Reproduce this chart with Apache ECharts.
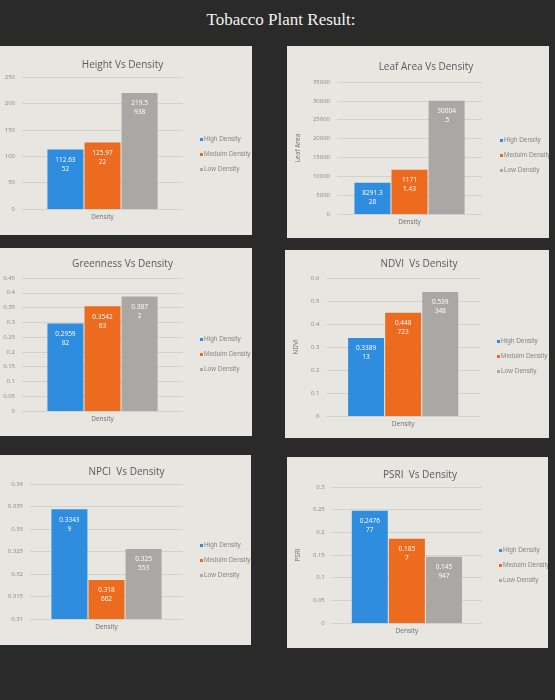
<!DOCTYPE html>
<html>
<head>
<meta charset="utf-8">
<script src="https://cdn.jsdelivr.net/npm/echarts@6/dist/echarts.min.js"></script>
<style>
  html, body { margin: 0; padding: 0; background: #2a2a2a; }
  #page { position: relative; width: 555px; height: 700px; overflow: hidden; background: #2a2a2a; }
  #heading { position: absolute; left: 0; width: 562px; top: 10px; text-align: center;
    font-family: "Liberation Serif", serif; font-size: 17px; color: #f2f2f2; }
  .panel { position: absolute; background: #e8e6e1; }
</style>
</head>
<body>
<div id="page">
  <div id="heading">Tobacco Plant Result:</div>
</div>
<script>
// series names, as written in the legends
const seriesNames = ['High Density', 'Meduim Density', 'Low Density'];
const category = ['Density'];

// values per chart: [high, medium, low]
const heightVals = [112.6352, 125.9722, 219.5938];
const leafAreaVals = [8291.328, 11711.43, 30004.5];
const greennessVals = [0.295982, 0.354263, 0.3872];
const ndviVals = [0.338913, 0.448723, 0.539348];
const npciVals = [0.33439, 0.318662, 0.325553];
const psriVals = [0.247677, 0.1857, 0.145947];

// where Excel wrapped each value label
const heightBreaks = [6, 6, 5];
const leafAreaBreaks = [6, 4, 5];
const greennessBreaks = [6, 6, 5];
const ndviBreaks = [6, 5, 5];
const npciBreaks = [6, 5, 5];
const psriBreaks = [6, 5, 5];

// y axis ranges: [min, max, interval]
const heightAxis = [0, 250, 50];
const leafAreaAxis = [0, 35000, 5000];
const greennessAxis = [0, 0.45, 0.05];
const ndviAxis = [0, 0.6, 0.1];
const npciAxis = [0.31, 0.34, 0.005];
const psriAxis = [0, 0.3, 0.05];

const colors = ['#2f8de0', '#ec6b1f', '#a9a8a4'];
const font = '"Open Sans", "Noto Sans", sans-serif';
const narrow = '"Liberation Sans Narrow", "Liberation Sans", sans-serif';

const charts = [
  { title: 'Height Vs Density', vals: heightVals, breaks: heightBreaks, axis: heightAxis, yName: '',
    box: [0, 46, 252, 189], grid: [22, 31, 69, 26], titleTop: 9, legend: [195, 85], nameGap: 0 },
  { title: 'Leaf Area Vs Density', vals: leafAreaVals, breaks: leafAreaBreaks, axis: leafAreaAxis, yName: 'Leaf Area',
    box: [287, 46, 262, 192], grid: [43, 36, 67, 24], titleTop: 11, legend: [208, 86], nameGap: 31 },
  { title: 'Greenness Vs Density', vals: greennessVals, breaks: greennessBreaks, axis: greennessAxis, yName: '',
    box: [0, 248, 252, 188], grid: [22, 30, 69, 25], titleTop: 6, legend: [195, 83], nameGap: 0 },
  { title: 'NDVI  Vs Density', vals: ndviVals, breaks: ndviBreaks, axis: ndviAxis, yName: 'NDVI',
    box: [285, 250, 264, 188], grid: [33, 28, 69, 22], titleTop: 4, legend: [207, 83], nameGap: 25 },
  { title: 'NPCI  Vs Density', vals: npciVals, breaks: npciBreaks, axis: npciAxis, yName: '',
    box: [0, 455, 251, 190], grid: [30, 29, 68, 26], titleTop: 7, legend: [195, 82], nameGap: 0 },
  { title: 'PSRI  Vs Density', vals: psriVals, breaks: psriBreaks, axis: psriAxis, yName: 'PSRI',
    box: [287, 457, 261, 191], grid: [31, 30, 66, 25], titleTop: 8, legend: [207, 85], nameGap: 26 }
];

const page = document.getElementById('page');

charts.forEach(function (c) {
  const el = document.createElement('div');
  el.className = 'panel';
  el.style.left = c.box[0] + 'px';
  el.style.top = c.box[1] + 'px';
  el.style.width = c.box[2] + 'px';
  el.style.height = c.box[3] + 'px';
  page.appendChild(el);

  const chart = echarts.init(el, null, { renderer: 'canvas' });
  const centerX = c.grid[0] + (c.box[2] - c.grid[0] - c.grid[2]) / 2;

  chart.setOption({
    animation: false,
    textStyle: { fontFamily: font },
    title: {
      text: c.title,
      left: centerX + 15,
      textAlign: 'center',
      top: c.titleTop,
      textStyle: { fontSize: 10, fontWeight: 'normal', color: '#5a5a5a', fontFamily: font }
    },
    legend: {
      orient: 'vertical',
      left: c.legend[0],
      top: c.legend[1],
      itemWidth: 3,
      itemHeight: 3,
      itemGap: 8,
      icon: 'rect',
      textStyle: { fontSize: 6.5, color: '#858585', fontFamily: narrow, padding: [0, 0, 0, -4] },
      data: seriesNames
    },
    grid: { left: c.grid[0], top: c.grid[1], right: c.grid[2], bottom: c.grid[3], containLabel: false },
    xAxis: {
      type: 'category',
      data: category,
      axisLine: { show: false },
      axisTick: { show: false },
      axisLabel: { fontSize: 6.5, color: '#6e6e6e', margin: 5 }
    },
    yAxis: {
      type: 'value',
      min: c.axis[0],
      max: c.axis[1],
      interval: c.axis[2],
      name: c.yName,
      nameLocation: 'middle',
      nameRotate: 90,
      nameGap: c.nameGap,
      nameTextStyle: { fontSize: 6.5, color: '#6e6e6e' },
      axisLine: { show: false },
      axisTick: { show: false },
      axisLabel: {
        fontSize: 6, color: '#888888', margin: 7,
        formatter: function (v) { return String(+v.toFixed(4)); }
      },
      splitLine: { lineStyle: { color: '#d2d1cd', width: 1 } }
    },
    series: seriesNames.map(function (name, i) {
      return {
        name: name,
        type: 'bar',
        data: [c.vals[i]],
        startValue: c.axis[0],
        barWidth: 36,
        barGap: '3%',
        itemStyle: { color: colors[i] },
        label: {
          show: true,
          position: 'insideTop',
          distance: 6,
          fontSize: 6.5,
          lineHeight: 9,
          color: '#ffffff',
          formatter: function (p) {
            const s = String(p.value);
            const b = c.breaks[i];
            return s.length > b ? s.slice(0, b) + '\n' + s.slice(b) : s;
          }
        }
      };
    })
  });
});
</script>
</body>
</html>
